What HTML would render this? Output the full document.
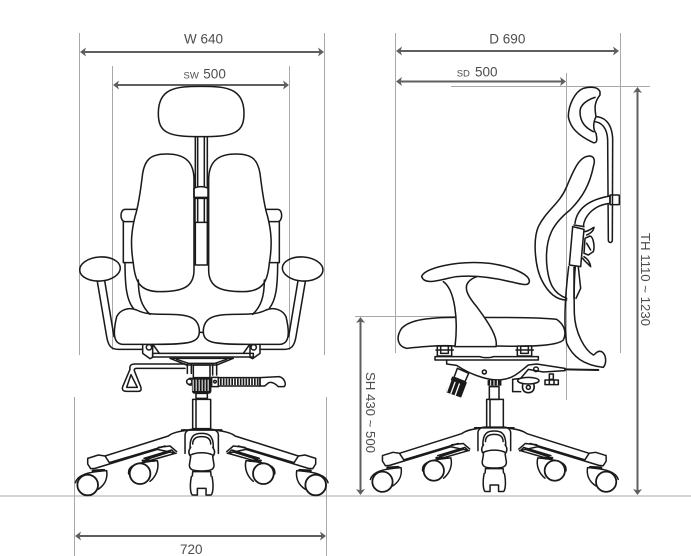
<!DOCTYPE html>
<html><head><meta charset="utf-8"><style>
html,body{margin:0;padding:0;background:#fff}
svg{display:block}
text{font-family:"Liberation Sans",Arial,sans-serif;fill:#4d4d4d;font-size:13.5px}
.g{stroke:#a8a8a8;stroke-width:1;fill:none}
.d{stroke:#5f5f5f;stroke-width:2;fill:none}
.h{fill:#5f5f5f;stroke:none}
.k{fill:none;stroke:#1a1a1a;stroke-width:4.6;stroke-linejoin:round;stroke-linecap:round}
.w{fill:#fff}
.b{fill:#1a1a1a}
</style></head><body>
<svg width="691" height="556" viewBox="0 0 691 556" xmlns="http://www.w3.org/2000/svg">
<defs>
<g id="backHalf">
  <path d="M290 222C240 222 225 240 218 280C212 330 205 380 195 410C185 450 180 490 190 550C195 600 205 635 270 635C340 635 372 620 372 570L372 300C372 250 350 222 290 222Z"/>
  <path d="M200 388L165 388C149 388 149 425 165 425L190 425"/>
  <path d="M160 425L160 548L190 548"/>
  <path d="M165 548C165 620 170 660 190 685"/>
  <path d="M205 600C205 650 215 680 240 703"/>
  <path d="M140 710C150 690 175 680 200 690C225 703 250 703 300 703C360 703 385 715 388 750C390 790 360 793 250 793L160 793C130 793 128 760 140 710Z"/>
  <ellipse cx="90" cy="567" rx="61" ry="36" transform="rotate(-4 90 567)"/>
  <path d="M82 605L110 770C115 800 125 808 145 808L218 808"/>
  <path d="M104 602L132 770"/>
  <path d="M218 793L218 820L240 836L248 832L248 793"/>
  <circle cx="237" cy="802" r="8"/>
  <path d="M250 795L268 820"/>
</g>
<g id="baseHalf">
  <path d="M345 272C320 275 305 280 295 288L105 348L85 345L53 355L53 372L62 386L75 385L262 328L318 340"/>
  <path d="M105 348L118 368L285 318"/>
  <path d="M265 322L300 318L320 335"/>
  <path d="M222 355L305 330L315 340L228 365"/>
  <path d="M228 358L300 335" style="stroke-width:6"/>
  <path class="w" d="M176 402C172 378 195 368 262 362C268 385 258 410 240 424"/>
  <path d="M218 362L252 362" style="stroke-width:7"/>
  <circle class="w" cx="210" cy="401" r="31" style="stroke-width:5.500"/>
  <path class="w" d="M16 428C22 406 50 396 110 392C114 420 100 438 84 448"/>
  <path d="M68 392L102 390" style="stroke-width:7"/>
  <circle class="w" cx="53" cy="435" r="31" style="stroke-width:5.500"/>
</g>
<g id="base">
  <use href="#baseHalf"/>
  <use href="#baseHalf" transform="translate(790,0) scale(-1,1)"/>
  <path class="w" d="M345 340L345 285C345 275 355 268 365 268L425 268C435 268 445 275 445 285L445 340"/>
  <path d="M335 270L455 270" style="stroke-width:5"/>
  <path class="w" d="M360 322C360 285 375 280 395 280C415 280 430 285 430 322"/>
  <path d="M368 312C368 295 380 290 395 290C410 290 422 295 422 312"/>
  <path class="w" d="M362 322C352 335 358 345 362 350L358 375C358 390 370 393 395 393C420 393 432 390 432 375L428 350C432 345 438 335 428 322"/>
  <path d="M362 345C380 336 410 336 428 345"/>
  <path class="w" d="M368 395L422 395L426 440L364 440Z"/>
  <path class="w" d="M364 410C358 440 362 465 368 465L382 465L382 445L408 445L408 465L422 465C428 465 432 440 426 410"/>
</g>
</defs>

<!-- grey extension lines -->
<path class="g" d="M79.5 33V355M324.5 33V355M112.5 66V350M289.5 66V350M74.5 397V556M326.5 397V556M0 496H691"/>
<path class="g" d="M395.5 33V353M620.5 33V353M566.5 73V400M451 86.5H650M355 316.5H460"/>

<!-- dimension arrows -->
<path class="d" d="M82 52H322M116 85H286M78 536H324M398 51H617M398 81.5H564M637.5 91V491M360.5 321V491"/>
<path class="h" d="M80 52l6-4.5-1.5 4.5 1.5 4.500zM324 52l-6-4.5 1.5 4.5-1.5 4.500zM113 85l6-4.500-1.500 4.500 1.500 4.500zM289 85l-6-4.500 1.500 4.500-1.500 4.500zM75 536l6-4.500-1.500 4.500 1.500 4.500zM326 536l-6-4.500 1.500 4.500-1.500 4.500zM396 51l6-4.500-1.500 4.500 1.500 4.500zM619 51l-6-4.500 1.500 4.500-1.500 4.500zM396 81.500l6-4.500-1.500 4.500 1.500 4.500zM566 81.500l-6-4.500 1.500 4.500-1.500 4.500zM637.500 87l-4.500 6 4.500-1.500 4.500 1.500zM637.500 495l-4.500-6 4.500 1.500 4.500-1.500zM360.500 317l-4.500 6 4.500-1.500 4.500 1.500zM360.500 495l-4.500-6 4.500 1.500 4.500-1.500z"/>

<!-- labels -->
<text x="184" y="43.300">W 640</text>
<text x="183.500" y="78.700" style="font-size:9.500px">SW</text><text x="203.300" y="78.700">500</text>
<text x="180" y="554">720</text>
<text x="489.300" y="43.300">D 690</text>
<text x="456.700" y="76.700" style="font-size:9.500px">SD</text><text x="475" y="76.500">500</text>
<text transform="translate(641,233) rotate(90)" style="font-size:13.200px">TH 1110 ~ 1230</text>
<text transform="translate(366,372) rotate(90)" style="font-size:13.200px">SH 430 ~ 500</text>

<!-- LEFT CHAIR upper (crop 1 coords) -->
<g class="k" transform="translate(70,80) scale(.33333)">
  <path d="M393 19C470 19 522 25 522 100C522 160 490 170 393 170C296 170 265 160 265 100C265 25 316 19 393 19Z"/>
  <path d="M376 170V320M412 170V320M383 170V320M403 170V320"/>
  <path d="M372 325C385 318 402 318 414 325L414 352L372 352Z"/>
  <path d="M375 355H412V427H375ZM383 355V427M403 355V427"/>
  <path d="M376 427V555H412V427"/>
  <use href="#backHalf"/>
  <use href="#backHalf" transform="translate(788,0) scale(-1,1)"/>
  <path d="M388 757H400"/>
</g>

<!-- LEFT CHAIR lower (crop 2 coords) -->
<g class="k" transform="translate(70,340) scale(.33333)">
  <path d="M248 40H550V51H248Z"/>
  <path d="M300 55H490L440 75H350Z"/>
  <path d="M320 58L355 70H435L470 58"/>
  <path d="M345 72H195C182 72 178 78 180 88L158 140C155 150 160 154 170 154H205C213 154 215 148 212 140L193 92C192 87 195 85 200 85L345 85"/>
  <path d="M183 104L170 142H202Z"/>
  <path d="M352 72V100M364 72V100M428 72V105M440 72V105"/>
  <path d="M370 75H420V115H370Z"/>
  <circle cx="358" cy="125" r="8"/>
  <path d="M358 115H372M358 135H372"/>
  <rect x="368" y="113" width="54" height="46" rx="6" class="b"/>
  <path d="M368 136H422" style="stroke:#fff;stroke-width:34;stroke-dasharray:3 6;stroke-linecap:butt"/>
  <path d="M425 112H445V140H425Z"/>
  <circle cx="435" cy="125" r="4"/>
  <path d="M445 113H570V138H445Z"/>
  <path d="M450 125.500H568" style="stroke-width:20;stroke-dasharray:5 3.500;stroke-linecap:butt"/>
  <path d="M570 113L628 110C645 115 650 135 642 140L625 140C615 130 605 125 596 128L584 138H570Z"/>
  <path d="M378 160H412V175H378Z"/>
  <path d="M368 178H422V266H368ZM378 178V266"/>
</g>
<g class="k" transform="translate(201.700,340) scale(.33333) translate(-395,0)"><use href="#base"/></g>

<!-- RIGHT CHAIR upper (crop 3 coords) -->
<g class="k" transform="translate(390,80) scale(.33333)">
  <path d="M615 110C640 110 665 125 668 175L667 480C667 490 655 490 655 480L653 180C652 145 635 125 610 125"/>
  <path class="w" d="M630 35C625 22 605 18 580 25C555 35 535 75 535 110C540 140 560 165 610 188C622 190 622 178 618 160C610 150 608 130 618 110C615 90 610 70 630 45Z"/>
  <path d="M615 52C590 60 570 75 570 95C570 130 590 145 610 155"/>
  <path d="M600 228C570 228 555 260 530 320C510 370 470 390 445 440C428 480 435 560 455 600C475 640 500 660 530 660"/>
  <path d="M600 228C615 230 615 245 610 260C600 310 580 350 540 390C490 430 465 470 470 550C475 610 490 640 530 655"/>
  <g transform="translate(510,330)">
    <path class="w" d="M45 100C50 60 80 30 150 18L150 40C100 45 72 80 70 110"/>
    <rect x="150" y="15" width="28" height="29" rx="2"/>
    <path class="w" d="M38 110L72 118L62 230L28 225Z"/>
    <path d="M42 105L72 110"/>
    <path d="M72 125C85 125 95 115 102 112C100 125 90 130 80 135"/>
    <path class="w" d="M75 145L90 138C100 140 105 170 100 185L85 195L72 190Z"/>
    <path d="M80 160L92 180"/>
    <path d="M68 205C75 215 85 222 92 230C90 215 80 205 72 200"/>
    <path d="M42 232L42 325M55 232L62 295L48 325"/>
  </g>
  <path d="M536 560C525 650 520 730 530 790C548 830 580 855 640 862C650 850 650 825 635 815C620 810 615 825 610 825C585 810 555 760 553 700C552 650 552 600 556 560"/>
  <path d="M200 712C120 712 60 718 35 745C15 775 25 800 50 805C100 800 150 795 195 798L318 798C400 800 500 800 520 780C530 760 525 735 500 718C450 712 350 712 200 712Z"/>
  <path class="w" d="M160 605C195 630 205 720 195 800L318 800C325 770 290 720 260 680C235 650 205 610 260 590"/>
  <path class="w" d="M95 590C100 565 200 540 300 550C370 560 420 585 418 605C415 620 395 612 360 605C300 590 250 585 200 590C160 595 105 620 95 590Z"/>
</g>

<!-- RIGHT CHAIR lower (crop 4 coords) -->
<g class="k" transform="translate(350,340) scale(.33333)">
  <path class="w" d="M262 18H305V48H262ZM272 18V40H295V18M258 30H310M502 18H545V48H502ZM512 18V40H535V18M498 30H550"/>
  <path class="w" d="M255 50H390C400 54 420 54 430 50H565V60H255Z"/>
  <path d="M290 60V72L320 76C370 110 430 125 460 118C490 115 510 95 535 75L560 72L645 85V92L580 96L535 88L512 115L488 118"/>
  <circle cx="403" cy="96" r="6"/>
  <circle cx="558" cy="88" r="7"/>
  <path d="M645 88L745 90" style="stroke-width:6"/>
  <path d="M322 85L356 100L345 125L312 112Z"/>
  <path d="M308 112L348 128L332 170L290 155Z" class="b"/>
  <path d="M302 122L290 155M315 127L303 160M328 132L316 165" style="stroke:#fff;stroke-width:4"/>
  <path d="M488 118V155H512"/>
  <ellipse class="w" cx="535" cy="122" rx="32" ry="10"/>
  <path d="M518 134C515 152 525 158 535 158C545 158 555 152 552 134" style="stroke-width:5"/>
  <circle cx="535" cy="142" r="6"/>
  <path d="M598 102H610V118H598ZM585 120H625V134H585ZM598 120V134M612 120V134"/>
  <path d="M415 122H452V135H415Z" class="b"/>
  <path d="M422 122V135M432 122V135M442 122V135" style="stroke:#fff;stroke-width:3"/>
  <path d="M418 140H447V178H418Z"/>
  <path d="M410 178H460V266H410ZM420 178V266"/>
</g>
<g class="k" transform="translate(494.300,339.500) scale(.32700) translate(-395,0)"><use href="#base"/></g>
</svg>
</body></html>
